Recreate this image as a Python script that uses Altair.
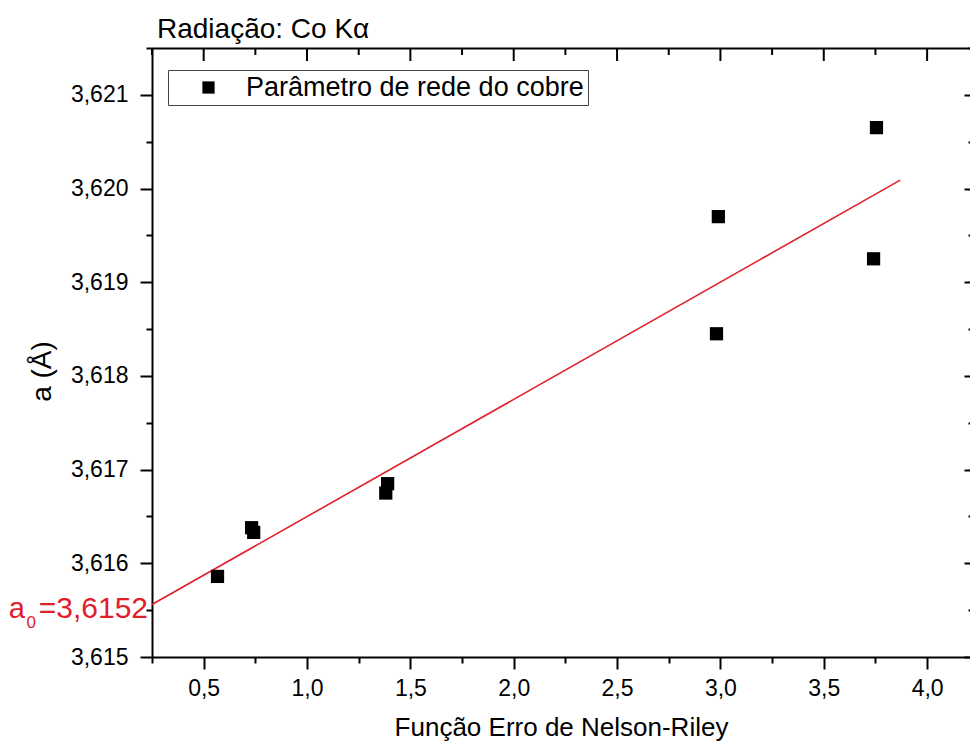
import altair as alt
import pandas as pd

# ---- data ----
x_vals = [0.567, 0.732, 0.742, 1.381, 1.390, 2.981, 2.990, 3.741, 3.755]
a_vals = [3.61586, 3.61638, 3.61633, 3.61675, 3.61685, 3.61845, 3.61970, 3.61925, 3.62065]
series_name = "Parâmetro de rede do cobre"

fit_x = [0.25, 3.87]
fit_y = [3.61556, 3.62009]

x_major = [0.5, 1.0, 1.5, 2.0, 2.5, 3.0, 3.5, 4.0]
x_minor = [0.25, 0.75, 1.25, 1.75, 2.25, 2.75, 3.25, 3.75]
y_major = [3.615, 3.616, 3.617, 3.618, 3.619, 3.620, 3.621]
y_minor = [3.6155, 3.6165, 3.6175, 3.6185, 3.6195, 3.6205, 3.6215]

a0_value = "=3,6152"
title_text = "Radiação: Co Kα"
x_title = "Função Erro de Nelson-Riley"
y_title = "a (Å)"

pts = pd.DataFrame({"x": x_vals, "a": a_vals, "serie": [series_name] * len(x_vals)})
fit = pd.DataFrame({"x": fit_x, "a": fit_y})
lbl = pd.DataFrame({"x": [fit_x[0]], "a": [fit_y[0]]})
top_major_df = pd.DataFrame({"t": x_major})
top_minor_df = pd.DataFrame({"t": x_minor})

W, H = 818, 609
FONT = "Liberation Sans"
RED = "#e0202a"

xs = alt.Scale(domain=[0.25, 4.2075], nice=False, zero=False)
ys = alt.Scale(domain=[3.615, 3.6215], nice=False, zero=False)

x_fmt = "replace(format(datum.value, '.1f'), '.', ',')"
y_fmt = "replace(format(datum.value, '.3f'), '.', ',')"

points = alt.Chart(pts).mark_square(size=175, opacity=1).encode(
    x=alt.X("x:Q", scale=xs, axis=alt.Axis(
        orient="bottom", values=x_major, tickSize=12, labelExpr=x_fmt, grid=False,
        labelFontSize=23, labelPadding=8, title=x_title, titleFontSize=26,
        titleY=78, titleBaseline="alphabetic")),
    y=alt.Y("a:Q", scale=ys, axis=alt.Axis(
        orient="left", values=y_major, tickSize=12, labelExpr=y_fmt, grid=False,
        labelFontSize=23, labelPadding=12, title=y_title, titleFontSize=28,
        titleX=-102, titleY=323, titleBaseline="alphabetic", titleAngle=270)),
    color=alt.Color("serie:N", scale=alt.Scale(domain=[series_name], range=["black"]),
                    legend=alt.Legend(
                        title=None, orient="none", legendX=16, legendY=22,
                        strokeColor="#444444", padding=4, symbolType="square",
                        symbolSize=150, symbolOffset=23, labelOffset=24,
                        labelFontSize=27, labelFont=FONT, labelColor="black",
                        labelLimit=800, symbolStrokeWidth=0)),
)

line = alt.Chart(fit).mark_line(color=RED, strokeWidth=1.6).encode(
    x=alt.X("x:Q", scale=xs, axis=alt.Axis(
        orient="bottom", values=x_minor, tickSize=6, labels=False, domain=False,
        grid=False, title=None)),
    y=alt.Y("a:Q", scale=ys, axis=alt.Axis(
        orient="left", values=y_minor, tickSize=6, labels=False, domain=False,
        grid=False, title=None)),
)

# top frame: domain line from a top axis, inward ticks as rules at tick values
top_major = alt.Chart(top_major_df).mark_rule(color="black", strokeWidth=2).encode(
    x=alt.X("t:Q", scale=xs, axis=alt.Axis(
        orient="top", ticks=False, labels=False, domain=True, grid=False, title=None)),
    y=alt.value(0), y2=alt.value(13),
)
top_minor = alt.Chart(top_minor_df).mark_rule(color="black", strokeWidth=2).encode(
    x=alt.X("t:Q", scale=xs, axis=None),
    y=alt.value(0), y2=alt.value(7),
)

lbl_main = alt.Chart(lbl).mark_text(
    text=a0_value, color=RED, fontSize=30, font=FONT, align="right",
    baseline="alphabetic", dx=-4, dy=13).encode(
    x=alt.X("x:Q", scale=xs, axis=None),
    y=alt.Y("a:Q", scale=ys, axis=alt.Axis(
        orient="right", offset=7, values=y_major, tickSize={"expr": "-13"},
        labels=False, domain=False, grid=False, title=None)),
)

lbl_sub = alt.Chart(lbl).mark_text(
    text="0", color=RED, fontSize=17, font=FONT, align="right",
    baseline="alphabetic", dx=-116, dy=23).encode(
    x=alt.X("x:Q", scale=xs, axis=None),
    y=alt.Y("a:Q", scale=ys, axis=alt.Axis(
        orient="right", offset=7, values=y_minor, tickSize={"expr": "-9"},
        labels=False, domain=False, grid=False, title=None)),
)

lbl_a = alt.Chart(lbl).mark_text(
    text="a", color=RED, fontSize=29, font=FONT, align="right",
    baseline="alphabetic", dx=-127, dy=13).encode(
    x=alt.X("x:Q", scale=xs, axis=None),
    y=alt.Y("a:Q", scale=ys, axis=None),
)

chart = alt.layer(line, points, top_major, top_minor, lbl_main, lbl_sub, lbl_a).resolve_axis(
    x="independent", y="independent"
).properties(
    width=W, height=H,
    background="white",
    autosize=alt.AutoSizeParams(type="none"),
    padding={"left": 152, "top": 48, "right": 0, "bottom": 92},
    title=alt.TitleParams(title_text, anchor="start", fontSize=28, font=FONT,
                          fontWeight="normal", color="black", offset=11, dx=5,
                          dy=30, baseline="alphabetic", frame="group"),
).configure_view(stroke="transparent").configure_axis(
    grid=False, domainColor="black", tickColor="black", domainWidth=2, tickWidth=2,
    labelFont=FONT, titleFont=FONT, labelColor="black", titleColor="black",
    titleFontWeight="normal",
)

chart.save("out.html", embed_options={"renderer": "svg", "actions": False})
